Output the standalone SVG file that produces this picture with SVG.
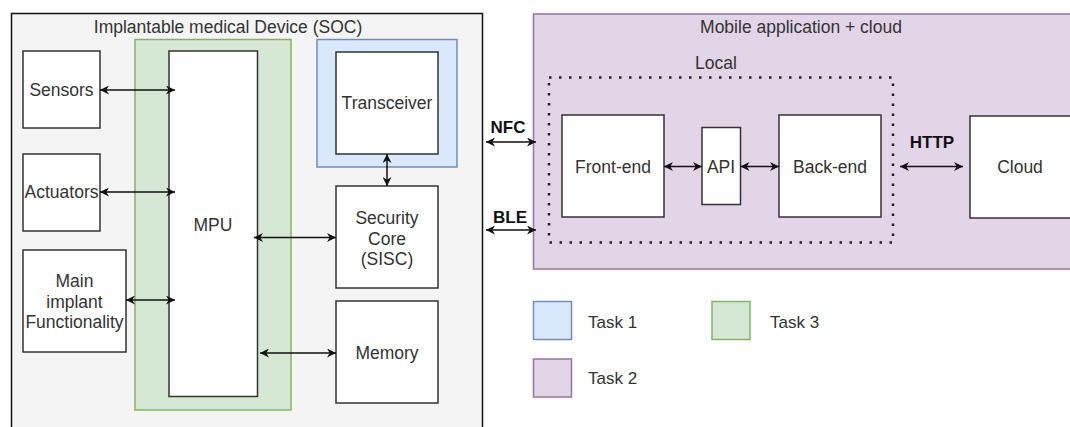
<svg xmlns="http://www.w3.org/2000/svg" width="1070" height="427" viewBox="0 0 1070 427">
<style>
.box{fill:#ffffff;stroke:#333333;stroke-width:1.5}
.t{font-family:"Liberation Sans",Arial,sans-serif;font-size:17.5px;fill:#333333;text-anchor:middle;dominant-baseline:central}
.b{font-family:"Liberation Sans",Arial,sans-serif;font-size:17px;font-weight:bold;fill:#111111;text-anchor:middle}
.lt{font-family:"Liberation Sans",Arial,sans-serif;font-size:17px;fill:#333333;dominant-baseline:central}
.c{fill:none;stroke:#111111;stroke-width:1.5}
</style>
<defs>
<marker id="ah" viewBox="0 0 10 10" refX="10" refY="5" markerWidth="9" markerHeight="9" markerUnits="userSpaceOnUse" orient="auto-start-reverse">
<path d="M0,0 L10,5 L0,10 L3,5 z" fill="#111111"/>
</marker>
</defs>
<rect width="1070" height="427" fill="#ffffff"/>

<g id="soc">
<rect x="11.5" y="13.5" width="471" height="430" fill="#f4f4f4" stroke="#111111" stroke-width="1.5"/>
<text class="t" x="228" y="27">Implantable medical Device (SOC)</text>
</g>
<g id="task3-region">
<rect x="135" y="39.5" width="156" height="370.5" fill="#d5e8d4" stroke="#82b366" stroke-width="1.5"/>
</g>
<g id="task1-region">
<rect x="317" y="39.5" width="140" height="127.5" fill="#dae8fc" stroke="#6c8ebf" stroke-width="1.5"/>
</g>
<g id="mpu">
<rect class="box" x="169" y="51" width="88.5" height="345.5"/>
<text class="t" x="213" y="225">MPU</text>
</g>
<g id="sensors">
<rect class="box" x="23" y="51" width="77" height="77"/>
<text class="t" x="61.5" y="90">Sensors</text>
</g>
<g id="actuators">
<rect class="box" x="23" y="154" width="77" height="77"/>
<text class="t" x="61.5" y="192">Actuators</text>
</g>
<g id="main-implant">
<rect class="box" x="23" y="250" width="103" height="102"/>
<text class="t" x="74.5" y="281">Main</text>
<text class="t" x="74.5" y="301.5">implant</text>
<text class="t" x="74.5" y="322">Functionality</text>
</g>
<g id="transceiver">
<rect class="box" x="336" y="52" width="102" height="102"/>
<text class="t" x="387" y="103">Transceiver</text>
</g>
<g id="security-core">
<rect class="box" x="336" y="186" width="102" height="102"/>
<text class="t" x="387" y="218">Security</text>
<text class="t" x="387" y="238.5">Core</text>
<text class="t" x="387" y="259">(SISC)</text>
</g>
<g id="memory">
<rect class="box" x="336" y="301" width="102" height="102"/>
<text class="t" x="387" y="353">Memory</text>
</g>

<g id="mobile">
<rect x="533.5" y="14" width="545" height="255" fill="#e1d5e7" stroke="#9673a6" stroke-width="1.5"/>
<text class="t" x="801" y="27">Mobile application + cloud</text>
</g>
<g id="local">
<rect x="549" y="77.5" width="344" height="165" fill="none" stroke="#222222" stroke-width="2.5" stroke-dasharray="2.5 7.5"/>
<text class="t" x="716" y="63">Local</text>
</g>
<g id="front-end">
<rect class="box" x="562" y="115" width="102" height="102"/>
<text class="t" x="613" y="167">Front-end</text>
</g>
<g id="api">
<rect class="box" x="702" y="127.5" width="38.5" height="77"/>
<text class="t" x="721" y="167">API</text>
</g>
<g id="back-end">
<rect class="box" x="779" y="115" width="102" height="102"/>
<text class="t" x="830" y="167">Back-end</text>
</g>
<g id="cloud">
<rect class="box" x="970" y="116" width="102" height="102"/>
<text class="t" x="1020" y="167">Cloud</text>
</g>

<g id="connectors">
<line class="c" x1="100" y1="90" x2="175" y2="90" marker-start="url(#ah)" marker-end="url(#ah)"/>
<line class="c" x1="100" y1="192" x2="175" y2="192" marker-start="url(#ah)" marker-end="url(#ah)"/>
<line class="c" x1="126" y1="300" x2="175" y2="300" marker-start="url(#ah)" marker-end="url(#ah)"/>
<line class="c" x1="254" y1="237.5" x2="336" y2="237.5" marker-start="url(#ah)" marker-end="url(#ah)"/>
<line class="c" x1="260" y1="353" x2="336" y2="353" marker-start="url(#ah)" marker-end="url(#ah)"/>
<line class="c" x1="387" y1="154" x2="387" y2="186" marker-start="url(#ah)" marker-end="url(#ah)"/>
<line class="c" x1="486" y1="142" x2="536" y2="142" marker-start="url(#ah)" marker-end="url(#ah)"/>
<text class="b" x="508" y="133">NFC</text>
<line class="c" x1="486" y1="230" x2="536" y2="230" marker-start="url(#ah)" marker-end="url(#ah)"/>
<text class="b" x="510" y="223">BLE</text>
<line class="c" x1="664" y1="166.5" x2="702" y2="166.5" marker-start="url(#ah)" marker-end="url(#ah)"/>
<line class="c" x1="740.5" y1="166.5" x2="779" y2="166.5" marker-start="url(#ah)" marker-end="url(#ah)"/>
<line class="c" x1="900" y1="166.5" x2="963" y2="166.5" marker-start="url(#ah)" marker-end="url(#ah)"/>
<text class="b" x="932" y="148">HTTP</text>
</g>

<g id="legend">
<rect x="533.5" y="301.5" width="38" height="38" fill="#dae8fc" stroke="#6c8ebf" stroke-width="1.5"/>
<text class="lt" x="588" y="322">Task 1</text>
<rect x="533.5" y="359" width="38" height="38" fill="#e1d5e7" stroke="#9673a6" stroke-width="1.5"/>
<text class="lt" x="588" y="378.5">Task 2</text>
<rect x="712" y="301.5" width="38" height="38" fill="#d5e8d4" stroke="#82b366" stroke-width="1.5"/>
<text class="lt" x="770" y="322">Task 3</text>
</g>
</svg>
